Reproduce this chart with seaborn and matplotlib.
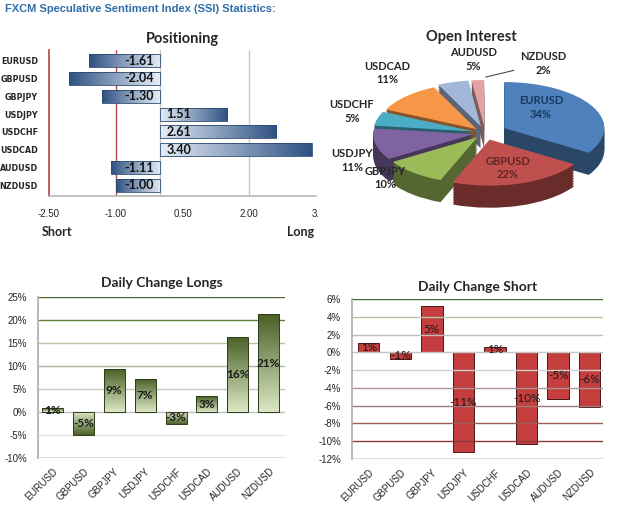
import numpy as np
import pandas as pd
import seaborn as sns
import matplotlib
matplotlib.use("Agg")
import matplotlib.pyplot as plt
from matplotlib.colors import LinearSegmentedColormap, to_rgb

# data
pairs = ["EURUSD", "GBPUSD", "GBPJPY", "USDJPY", "USDCHF", "USDCAD", "AUDUSD", "NZDUSD"]
positioning = [-1.61, -2.04, -1.30, 1.51, 2.61, 3.40, -1.11, -1.00]
pos_ticks = [-2.5, -1.0, 0.5, 2.0, 3.5]
pos_ticklabels = ["-2.50", "-1.00", "0.50", "2.00", "3."]
open_interest = [34, 22, 10, 11, 5, 11, 5, 2]
longs_change = [0.8, -4.9, 9.3, 7.2, -2.6, 3.4, 16.4, 21.3]
longs_labels = ["1%", "-5%", "9%", "7%", "-3%", "3%", "16%", "21%"]
short_change = [1.1, -0.7, 5.2, -11.2, 0.6, -10.3, -5.2, -6.1]
short_labels = ["1%", "-1%", "5%", "-11%", "1%", "-10%", "-5%", "-6%"]

sns.set_theme(style="white")
plt.rcParams['font.family'] = ['Lato', 'DejaVu Sans']

W, H = 625, 517
fig = plt.figure(figsize=(W / 100, H / 100), dpi=100)
fig.patch.set_facecolor("white")


def px_axes(x0, y0, x1, y1):
    return fig.add_axes([x0 / W, 1 - y1 / H, (x1 - x0) / W, (y1 - y0) / H])


def fill_gradient(ax, light, dark, along):
    cmap = LinearSegmentedColormap.from_list("g", [light, dark])
    ramp = np.linspace(0, 1, 64)
    for p in ax.patches:
        x0, y0 = p.get_x(), p.get_y()
        x1, y1 = x0 + p.get_width(), y0 + p.get_height()
        if along == "x":
            far = x1 if abs(x1) > abs(x0) else x0
            img = ramp[None, :] if far > 0 else ramp[None, ::-1]
        else:
            far = y1 if abs(y1) > abs(y0) else y0
            img = ramp[:, None] if far > 0 else ramp[::-1, None]
        im = ax.imshow(img, cmap=cmap, vmin=0, vmax=1, origin="lower", aspect="auto",
                       interpolation="bilinear",
                       extent=(min(x0, x1), max(x0, x1), min(y0, y1), max(y0, y1)),
                       zorder=3)
        im.set_clip_path(p)
        p.set_facecolor("none")
        p.set_zorder(4)


fig.text(5 / W, 1 - 9 / H, "FXCM Speculative Sentiment Index (SSI) Statistics:",
         color="#2f6ea8", fontsize=8, fontweight="bold", va="center",
         family=["Liberation Sans Narrow", "Liberation Sans"])

# ---- Positioning
ax1 = px_axes(49, 50, 316, 196)
sns.barplot(x=positioning, y=pairs, orient="h", color="#4f81bd", saturation=1,
            width=0.72, ax=ax1, edgecolor="#2c4a70", linewidth=0.6)
fill_gradient(ax1, "#e4ecf6", "#2f5283", "x")
ax1.set_xlim(-2.5, 3.5)
ax1.set_ylim(7.6, -0.6)
ax1.set_xticks(pos_ticks, pos_ticklabels)
ax1.axvline(-1.0, color="#b54a48", lw=1, zorder=1)
ax1.axvline(0, color="#c8c8c8", lw=1, zorder=1)
ax1.axvline(2.0, color="#c8c8c8", lw=1, zorder=1)
for s in ["top", "right"]:
    ax1.spines[s].set_visible(False)
ax1.spines["left"].set_color("#b54a48")
ax1.spines["bottom"].set_color("#b8b8b8")
ax1.tick_params(axis="x", length=2.5, color="#999999", pad=7, labelsize=7)
ax1.tick_params(axis="y", length=0, pad=8)
for lab in ax1.get_xticklabels():
    lab.set_family(["Liberation Sans"])
for lab in ax1.get_yticklabels():
    lab.set_family(["DejaVu Sans"])
    lab.set_fontweight("bold")
    lab.set_fontsize(5.8)
for i, v in enumerate(positioning):
    ax1.text(np.sign(v) * 0.14, i, f"{v:.2f}", ha="left" if v > 0 else "right",
             va="center", fontsize=9, fontweight="bold", color="#111111", zorder=6)
ax1.set_xlabel("")
ax1.set_ylabel("")
ax1.set_title("Positioning", fontsize=10.5, fontweight="bold", pad=5)
fig.text(42 / W, 1 - 232 / H, "Short", fontsize=9, fontweight="bold", va="center")
fig.text(314 / W, 1 - 232 / H, "Long", fontsize=9, fontweight="bold", va="center", ha="right")

# ---- Open interest (tilted exploded pie)
ax2 = px_axes(360, 45, 615, 215)
explode = [0.22, 0.15, 0.12, 0.12, 0.12, 0.12, 0.15, 0.15]
pie_colors = ["#4f81bd", "#c0504d", "#9bbb59", "#8064a2", "#4bacc6", "#f79646", "#a3b7d9", "#e3a3a3"]
side_colors = [tuple(c * 0.55 for c in to_rgb(col)) for col in pie_colors]
depth = 0.48
for k in np.linspace(depth, 0.02, 14):
    ax2.pie(open_interest, colors=side_colors, explode=explode, startangle=90,
            counterclock=False, center=(0, -k), wedgeprops=dict(linewidth=0))
ax2.pie(open_interest, colors=pie_colors, explode=explode, startangle=90,
        counterclock=False, center=(0, 0), wedgeprops=dict(linewidth=0))
ax2.set_aspect("auto")
ax2.set_xlim(-1.25, 1.3)
ax2.set_ylim(-1.78, 1.91)
ax2.axis("off")
label_pos = [(0.56, 0.56), (0.23, -0.76), (-1.0, -0.98), (-1.33, -0.59),
             (-1.33, 0.46), (-0.98, 1.30), (-0.12, 1.59), (0.58, 1.51)]
label_col = ["#17375e", "#632523"] + ["#262626"] * 6
for name, pct, (lx, ly), col in zip(pairs, open_interest, label_pos, label_col):
    if name == "NZDUSD":
        ax2.annotate(f"{name}\n{pct}%", xy=(-0.02, 1.2), xytext=(lx, ly),
                     ha="center", va="center", fontsize=8, fontweight="bold",
                     color=col, linespacing=1.3,
                     arrowprops=dict(arrowstyle="-", color="#333333", lw=0.7))
    else:
        ax2.text(lx, ly, f"{name}\n{pct}%", ha="center", va="center", fontsize=8,
                 fontweight="bold", color=col, linespacing=1.3)
fig.text(471 / W, 1 - 37 / H, "Open Interest", fontsize=10.5, fontweight="bold",
         ha="center", va="center")


def change_axes(ax, values, labels, light, dark, edge, grid, lims, step, bold):
    sns.barplot(x=pairs, y=values, color=dark, saturation=1, width=0.68, ax=ax,
                edgecolor=edge, linewidth=0.7)
    if light is not None:
        fill_gradient(ax, light, dark, "y")
    ax.bar_label(ax.containers[0], labels=labels, label_type="center", fontsize=8.5,
                 fontweight="bold" if bold else "normal", color="#1a1a1a", zorder=6)
    ticks = np.arange(lims[0], lims[1] + step / 2, step)
    for t, gc in zip(ticks, grid):
        ax.axhline(t, color=gc, lw=1, zorder=1)
    ax.set_ylim(*lims)
    ax.set_yticks(ticks, [f"{t:.0f}%" for t in ticks])
    for s in ["top", "right", "bottom"]:
        ax.spines[s].set_visible(False)
    ax.spines["left"].set_color("#b0b0b0")
    ax.tick_params(axis="y", length=0, pad=8, labelsize=7)
    ax.tick_params(axis="x", length=0, pad=6, labelsize=7)
    for lab in ax.get_xticklabels():
        lab.set_rotation(45)
        lab.set_ha("right")
        lab.set_rotation_mode("anchor")
        lab.set_family(["Liberation Sans"])
    for lab in ax.get_yticklabels():
        lab.set_family(["Liberation Sans"])
    ax.set_xlabel("")
    ax.set_ylabel("")


# ---- Daily change longs
ax3 = px_axes(38, 297, 285, 458)
grid_long = ["#9b3b39", "#e4e4e4", "#bfbfbf", "#c3c9bc", "#a8b79a", "#b2c5a0", "#5f7d3c", "#4f6a30"]
change_axes(ax3, longs_change, longs_labels, "#dbe7c4", "#4a6127", "#2e3b18",
            grid_long, (-10, 25), 5, True)
ax3.set_xlim(-0.47, 7.53)
ax3.set_title("Daily Change Longs", fontsize=10, fontweight="bold", pad=7)

# ---- Daily change short
ax4 = px_axes(352, 299, 603, 459)
grid_short = ["#8c3a38", "#8c3a38", "#9c5c5a", "#a07a78", "#ad9494", "#cfcfcf",
              "#c6c6c6", "#bcbcbc", "#b4c7a4", "#48683a"]
change_axes(ax4, short_change, short_labels, None, "#c43e3e", "#4a1616",
            grid_short, (-12, 6), 2, False)
ax4.set_xlim(-0.53, 7.42)
ax4.set_title("Daily Change Short", fontsize=10, fontweight="bold", pad=6)

fig.savefig("out.png", dpi=100, facecolor="white")
